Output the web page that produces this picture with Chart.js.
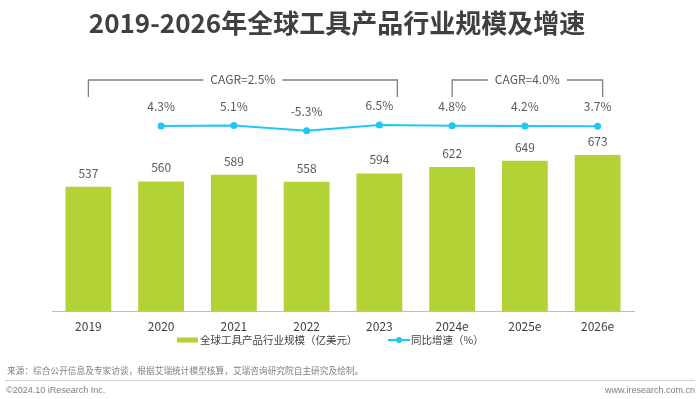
<!DOCTYPE html>
<html>
<head>
<meta charset="utf-8">
<script src="https://cdn.jsdelivr.net/npm/chart.js@4.4.0/dist/chart.umd.min.js"></script>
<style>
    html, body { margin: 0; padding: 0; background: #fff; }
    #wrap { position: relative; width: 700px; height: 399px; }
</style>
</head>
<body>
<div id="wrap"><canvas id="toolChart" width="700" height="399"></canvas></div>
<script>
// ==================== DATA ====================

const years = ['2019', '2020', '2021', '2022', '2023', '2024e', '2025e', '2026e'];
const marketSize = [537, 560, 589, 558, 594, 622, 649, 673];
const growthRate = [null, 4.3, 5.1, -5.3, 6.5, 4.8, 4.2, 3.7];
const cagrLabels = ['CAGR=2.5%', 'CAGR=4.0%'];

const barLabel = '全球工具产品行业规模（亿美元）';
const lineLabel = '同比增速（%）';
const titleText = '2019-2026年全球工具产品行业规模及增速';
const sourceText = '来源：综合公开信息及专家访谈，根据艾瑞统计模型核算，艾瑞咨询研究院自主研究及绘制。';

const GREEN = '#b2d235';
const BLUE = '#1fc8f2';
const FONT = '"Noto Sans CJK SC", "Noto Sans", sans-serif';

// ==================== CUSTOM DRAWING ====================

// value labels, CAGR brackets, legend, title and footer
const decorPlugin = {
    id: 'decor',
    afterDraw(chart) {
        const ctx = chart.ctx;
        const x = chart.scales.x;
        const barMeta = chart.getDatasetMeta(0);
        const lineMeta = chart.getDatasetMeta(1);

        ctx.save();
        ctx.textAlign = 'center';
        ctx.textBaseline = 'alphabetic';
        ctx.fillStyle = '#595959';
        ctx.font = '12px ' + FONT;

        // bar values
        barMeta.data.forEach((bar, i) => {
            ctx.fillText(String(marketSize[i]), bar.x, bar.y - 9);
        });

        // growth values
        lineMeta.data.forEach((pt, i) => {
            if (growthRate[i] === null) return;
            ctx.fillText(growthRate[i].toFixed(1) + '%', pt.x, pt.y - 15);
        });

        // CAGR brackets
        const drawBracket = (x1, x2, label) => {
            const top = 80, bottom = 97;
            const cx = (x1 + x2) / 2;
            ctx.font = '12px ' + FONT;
            const tw = ctx.measureText(label).width + 14;
            ctx.strokeStyle = '#7f7f7f';
            ctx.lineWidth = 1.3;
            ctx.beginPath();
            ctx.moveTo(x1, bottom);
            ctx.lineTo(x1, top);
            ctx.lineTo(cx - tw / 2, top);
            ctx.moveTo(cx + tw / 2, top);
            ctx.lineTo(x2, top);
            ctx.lineTo(x2, bottom);
            ctx.stroke();
            ctx.fillStyle = '#595959';
            ctx.fillText(label, cx, top + 4);
        };
        drawBracket(x.getPixelForValue(0), x.getPixelForValue(4) + 18, cagrLabels[0]);
        drawBracket(x.getPixelForValue(5), x.getPixelForValue(7) + 5, cagrLabels[1]);

        // legend
        ctx.font = '10.5px ' + FONT;
        ctx.textAlign = 'left';
        ctx.textBaseline = 'middle';
        const ly = 340;
        ctx.fillStyle = GREEN;
        ctx.fillRect(177, ly - 2.5, 21, 5);
        ctx.fillStyle = '#404040';
        ctx.fillText(barLabel, 200, ly);
        ctx.strokeStyle = BLUE;
        ctx.lineWidth = 2;
        ctx.beginPath();
        ctx.moveTo(388, ly);
        ctx.lineTo(410, ly);
        ctx.stroke();
        ctx.fillStyle = BLUE;
        ctx.beginPath();
        ctx.arc(399, ly, 3, 0, Math.PI * 2);
        ctx.fill();
        ctx.fillStyle = '#404040';
        ctx.fillText(lineLabel, 411, ly);

        // title
        ctx.textAlign = 'center';
        ctx.textBaseline = 'middle';
        ctx.fillStyle = '#404040';
        ctx.font = 'bold 26px ' + FONT;
        ctx.fillText(titleText, 337, 23);

        // footer
        ctx.textAlign = 'left';
        ctx.textBaseline = 'alphabetic';
        ctx.fillStyle = '#7f7f7f';
        ctx.font = '8.7px ' + FONT;
        ctx.fillText(sourceText, 7, 374);
        ctx.strokeStyle = '#d0d0d0';
        ctx.lineWidth = 1;
        ctx.beginPath();
        ctx.moveTo(5, 380.5);
        ctx.lineTo(695, 380.5);
        ctx.stroke();
        ctx.font = '9px "Liberation Sans", Arial, sans-serif';
        ctx.fillText('©2024.10 iResearch Inc.', 6, 393);
        ctx.textAlign = 'right';
        ctx.fillText('www.iresearch.com.cn', 695, 393);
        ctx.restore();
    }
};

// ==================== CHART ====================

const chart = new Chart(document.getElementById('toolChart'), {
    data: {
        labels: years,
        datasets: [{
            type: 'bar',
            label: barLabel,
            data: marketSize,
            yAxisID: 'y',
            backgroundColor: GREEN,
            barPercentage: 0.63,
            categoryPercentage: 1,
            order: 1
        }, {
            type: 'line',
            label: lineLabel,
            data: growthRate,
            yAxisID: 'y2',
            borderColor: BLUE,
            backgroundColor: BLUE,
            borderWidth: 2,
            pointRadius: 3.5,
            pointBackgroundColor: BLUE,
            pointBorderWidth: 0,
            tension: 0,
            order: 0
        }]
    },
    options: {
        responsive: false,
        animation: false,
        layout: { padding: { left: 52, right: 66, top: 60, bottom: 57 } },
        plugins: {
            legend: { display: false },
            tooltip: { enabled: false }
        },
        scales: {
            x: {
                offset: true,
                grid: { display: false, drawTicks: false },
                border: { display: true, color: '#bfbfbf', width: 1 },
                ticks: {
                    color: '#404040',
                    font: { size: 12, family: FONT },
                    padding: 8
                }
            },
            y: {
                display: false,
                min: 0,
                max: 1082
            },
            y2: {
                display: false,
                min: -366,
                max: 136
            }
        }
    },
    plugins: [decorPlugin]
});
</script>
</body>
</html>
